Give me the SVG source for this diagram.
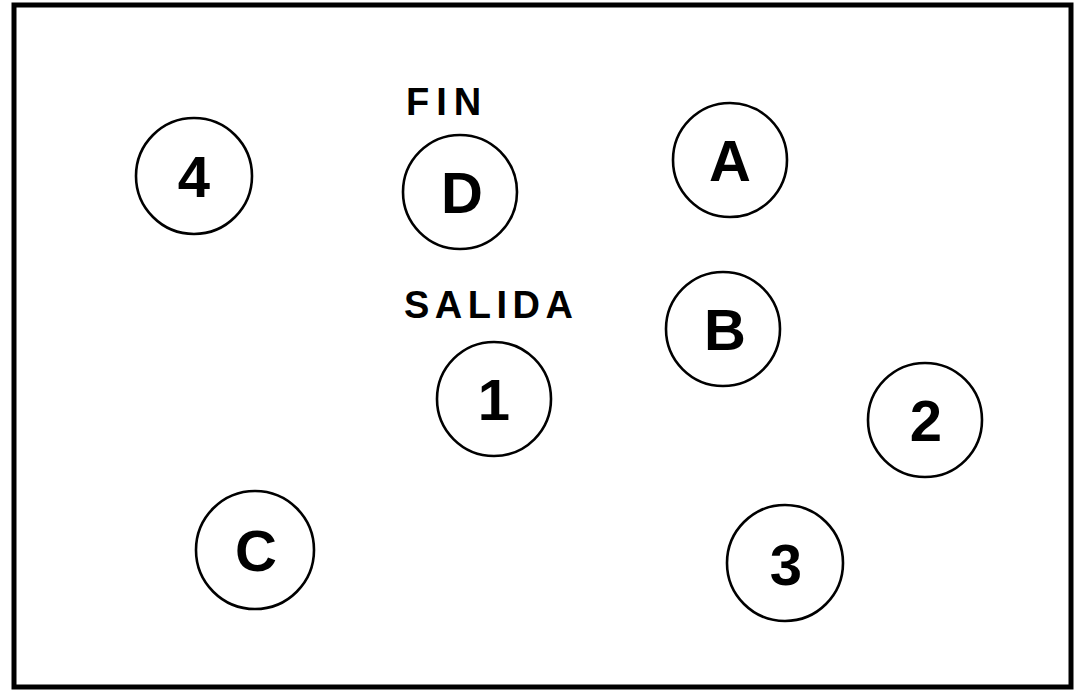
<svg xmlns="http://www.w3.org/2000/svg" width="1082" height="693" viewBox="0 0 1082 693">
<style>
.n circle{fill:none;stroke:#000;stroke-width:2.6}
.n text{font-family:"Liberation Sans",Arial,sans-serif;font-weight:bold;font-size:58px;text-anchor:middle;fill:#000}
.lbl{font-family:"Liberation Sans",Arial,sans-serif;font-weight:bold;font-size:38px;fill:#000}
</style>
<rect width="1082" height="693" fill="#fff"/>
<rect x="14" y="5" width="1057" height="682" fill="none" stroke="#000" stroke-width="5"/>
<g id="connectors"></g>
<g id="node-4" class="n"><circle cx="194" cy="176" r="58"/><text x="194" y="197">4</text></g>
<g id="node-D" class="n"><circle cx="460" cy="192" r="57"/><text x="462" y="213">D</text></g>
<g id="node-A" class="n"><circle cx="730" cy="160" r="57"/><text x="730" y="181">A</text></g>
<g id="node-B" class="n"><circle cx="723" cy="329" r="57"/><text x="725" y="350">B</text></g>
<g id="node-1" class="n"><circle cx="494" cy="399" r="57"/><text x="494" y="420">1</text></g>
<g id="node-2" class="n"><circle cx="925" cy="420" r="57"/><text x="926" y="441">2</text></g>
<g id="node-C" class="n"><circle cx="255" cy="550" r="59"/><text x="256" y="571">C</text></g>
<g id="node-3" class="n"><circle cx="785" cy="563" r="58"/><text x="786" y="585">3</text></g>
<g id="labels">
<text id="label-fin" class="lbl" x="406" y="115" style="letter-spacing:7px">FIN</text>
<text id="label-salida" class="lbl" x="404" y="318" style="letter-spacing:5.5px">SALIDA</text>
</g>
</svg>
